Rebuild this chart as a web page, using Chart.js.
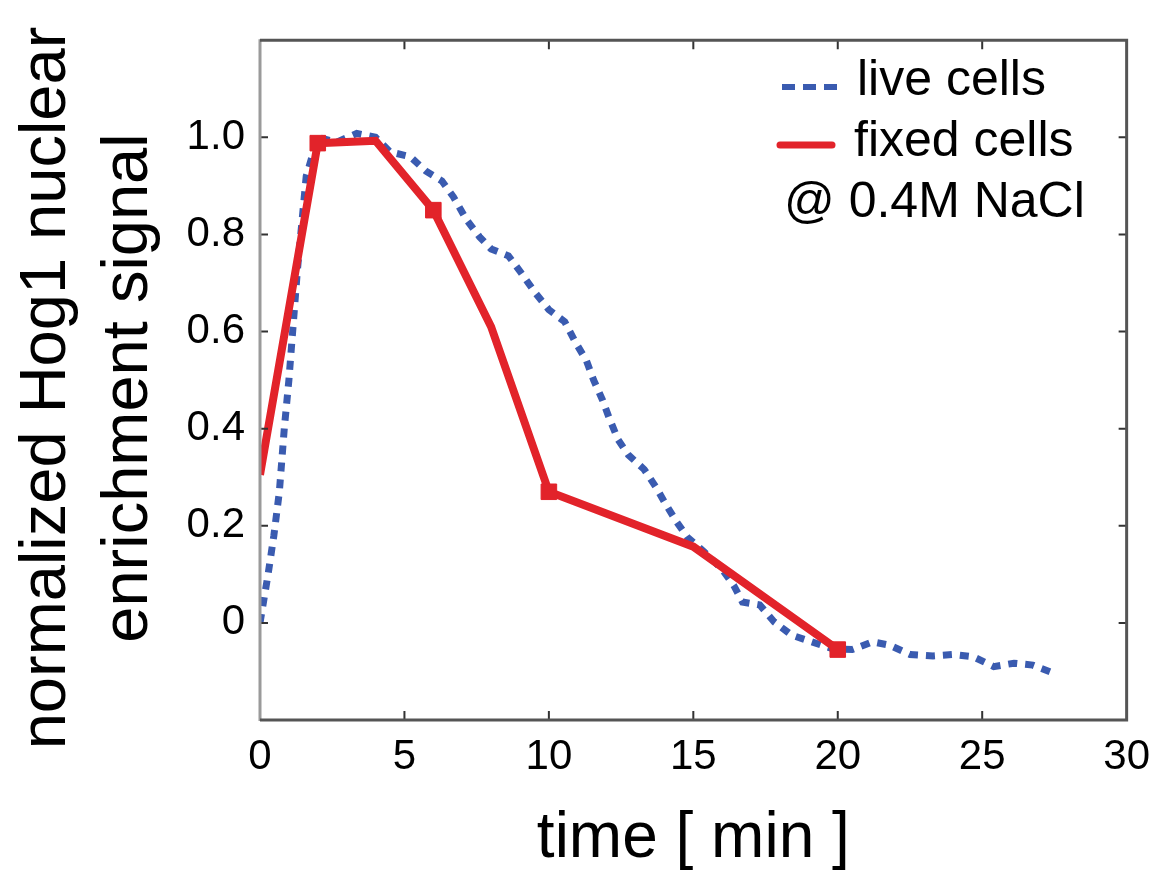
<!DOCTYPE html>
<html>
<head>
<meta charset="utf-8">
<script src="https://cdn.jsdelivr.net/npm/chart.js@4"></script>
<style>
  body { margin: 0; background: #fff; }
  #wrap { width: 1162px; height: 878px; position: relative; }
</style>
</head>
<body>
<div id="wrap"><canvas id="canvas1"></canvas></div>
<script>
// live cells (blue dotted)
const liveTime = [0, 0.28, 0.48, 0.67, 0.84, 1.0, 1.3, 1.6, 2.0, 2.65, 3.35, 4.0, 4.5, 5.2, 5.75, 6.3, 6.7, 7.15, 7.6, 8.0, 8.6, 9.05, 9.55, 10.0, 10.55, 10.9, 11.3, 11.55, 11.85, 12.1, 12.4, 12.75, 13.3, 13.7, 14.05, 14.4, 14.8, 15.4, 16.0, 16.4, 16.7, 17.3, 17.8, 18.4, 19.1, 19.8, 20.5, 21.2, 21.8, 22.5, 23.3, 24.0, 24.7, 25.4, 26.1, 26.75, 27.5];
const liveSignal = [0, 0.10, 0.18, 0.27, 0.40, 0.50, 0.73, 0.92, 1.0, 0.99, 1.008, 1.0, 0.97, 0.96, 0.93, 0.91, 0.877, 0.83, 0.795, 0.77, 0.756, 0.72, 0.678, 0.645, 0.62, 0.58, 0.54, 0.5, 0.46, 0.42, 0.377, 0.346, 0.316, 0.28, 0.244, 0.21, 0.176, 0.145, 0.11, 0.077, 0.043, 0.037, 0.002, -0.025, -0.039, -0.053, -0.055, -0.039, -0.046, -0.065, -0.068, -0.065, -0.07, -0.09, -0.083, -0.087, -0.104];

// fixed cells (red solid)
const fixedTime = [0, 2, 4, 6, 8, 10, 15, 20];
const fixedSignal = [0.305, 0.988, 0.993, 0.85, 0.61, 0.27, 0.157, -0.055];
const fixedMarker = [0, 11, 0, 11, 0, 11, 0, 11];

const xTicks = [0, 5, 10, 15, 20, 25, 30];
const yTicks = [0, 0.2, 0.4, 0.6, 0.8, 1.0];

const legendLabels = ["live cells", "fixed cells", "@ 0.4M NaCl"];
const yTitle = ["normalized Hog1 nuclear", "enrichment signal"];
const xTitle = "time [ min ]";

const BLUE = "#3a5bb0";
const RED = "#e2232a";
const FONT = '"Liberation Sans", Arial, sans-serif';

const ctx1 = document.getElementById("canvas1");

function toPoints(xs, ys) {
  return xs.map((x, i) => ({x: x, y: ys[i]}));
}

// box around the plot, inward tick marks, legend, y title
const framePlugin = {
  id: "frame",
  afterDatasetsDraw(chart) {
    const ctx = chart.ctx;
    const a = chart.chartArea;
    const xs = chart.scales.x;
    const ys = chart.scales.y;
    ctx.save();
    ctx.lineCap = "butt";

    // ticks
    ctx.strokeStyle = "#333";
    ctx.lineWidth = 2;
    ctx.beginPath();
    xTicks.forEach(t => {
      if (t === xs.min || t === xs.max) return;
      const px = xs.getPixelForValue(t);
      ctx.moveTo(px, a.bottom); ctx.lineTo(px, a.bottom - 9);
      ctx.moveTo(px, a.top); ctx.lineTo(px, a.top + 9);
    });
    yTicks.forEach(v => {
      const py = ys.getPixelForValue(v);
      ctx.moveTo(a.left, py); ctx.lineTo(a.left + 8, py);
      ctx.moveTo(a.right, py); ctx.lineTo(a.right - 8, py);
    });
    ctx.stroke();

    // frame
    ctx.lineWidth = 3;
    ctx.strokeStyle = "#9a9a9a";
    ctx.beginPath();
    ctx.moveTo(a.left, a.top - 1); ctx.lineTo(a.left, a.bottom + 1);
    ctx.stroke();
    ctx.strokeStyle = "#555";
    ctx.beginPath();
    ctx.moveTo(a.left, a.top); ctx.lineTo(a.right, a.top);
    ctx.lineTo(a.right, a.bottom); ctx.lineTo(a.left, a.bottom);
    ctx.stroke();

    // legend
    ctx.lineWidth = 6;
    ctx.strokeStyle = BLUE;
    ctx.setLineDash([13, 8]);
    ctx.beginPath();
    ctx.moveTo(782, 87); ctx.lineTo(838, 87);
    ctx.stroke();
    ctx.setLineDash([]);
    ctx.strokeStyle = RED;
    ctx.lineWidth = 7;
    ctx.lineCap = "round";
    ctx.beginPath();
    ctx.moveTo(780, 145); ctx.lineTo(832, 145);
    ctx.stroke();

    ctx.fillStyle = "#000";
    ctx.font = "50px " + FONT;
    ctx.textBaseline = "alphabetic";
    ctx.textAlign = "left";
    ctx.fillText(legendLabels[0], 857, 95);
    ctx.fillText(legendLabels[1], 854, 156);
    ctx.fillText(legendLabels[2], 784, 217);

    // y axis title, two rotated lines
    ctx.font = "65px " + FONT;
    ctx.textAlign = "center";
    ctx.translate(65, 388);
    ctx.rotate(-Math.PI / 2);
    ctx.fillText(yTitle[0], 0, 0);
    ctx.fillText(yTitle[1], 0, 82);
    ctx.restore();
  }
};

new Chart(ctx1, {
  type: "line",
  data: {
    datasets: [
      {
        label: "fixed cells",
        data: toPoints(fixedTime, fixedSignal),
        borderColor: RED,
        backgroundColor: RED,
        borderWidth: 8,
        pointStyle: "rect",
        pointRadius: fixedMarker,
        pointBorderWidth: 1,
        pointBorderColor: RED,
        pointBackgroundColor: RED,
        borderJoinStyle: "miter",
        tension: 0,
        order: 0
      },
      {
        label: "live cells",
        data: toPoints(liveTime, liveSignal),
        borderColor: BLUE,
        borderWidth: 7,
        borderDash: [9, 8],
        borderCapStyle: "butt",
        pointRadius: 0,
        tension: 0,
        order: 1
      }
    ]
  },
  plugins: [framePlugin],
  options: {
    responsive: true,
    maintainAspectRatio: false,
    animation: false,
    layout: { padding: { top: 38, right: 32, left: 0, bottom: 0 } },
    plugins: {
      legend: { display: false },
      tooltip: { enabled: false }
    },
    scales: {
      x: {
        type: "linear",
        min: 0,
        max: 30,
        afterFit: s => { s.height = 158; },
        afterBuildTicks: s => { s.ticks = xTicks.map(v => ({value: v})); },
        grid: { display: false, drawTicks: false },
        border: { display: false },
        ticks: {
          color: "#000",
          padding: 12,
          font: { family: '"Liberation Sans Narrow", "Liberation Sans", Arial, sans-serif', size: 42 },
          callback: v => String(v)
        },
        title: {
          display: true,
          text: xTitle,
          color: "#000",
          font: { family: FONT, size: 64, lineHeight: 1.2 },
          padding: 0
        }
      },
      y: {
        type: "linear",
        min: -0.2,
        max: 1.2,
        afterFit: s => { s.width = 260; },
        afterBuildTicks: s => { s.ticks = yTicks.map(v => ({value: v})); },
        grid: { display: false, drawTicks: false },
        border: { display: false },
        ticks: {
          color: "#000",
          padding: 15,
          font: { family: FONT, size: 42 },
          callback: v => (Math.abs(v) < 1e-9 ? "0" : v.toFixed(1))
        },
        title: { display: false }
      }
    }
  }
});
</script>
</body>
</html>
